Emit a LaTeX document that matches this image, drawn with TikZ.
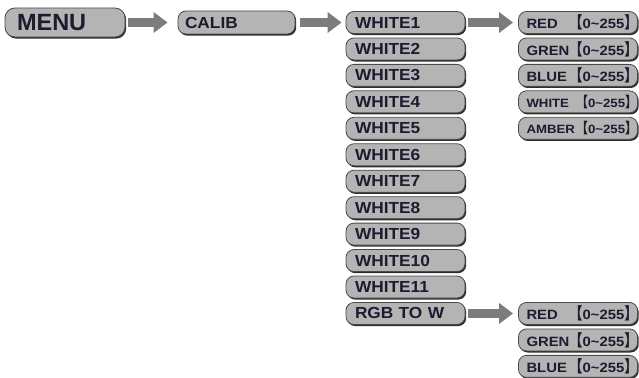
\documentclass[tikz,border=0pt]{standalone}
\usepackage{fontspec}
\setmainfont{Liberation Sans}
\newfontfamily\widefont[FakeStretch=1.08]{Liberation Sans}
\newfontfamily\chanfont[FakeStretch=1.1]{Liberation Sans}
\newfontfamily\cjkfont{Noto Sans CJK SC}
\usetikzlibrary{arrows.meta,shadows}

\definecolor{boxfill}{HTML}{B4B4B4}
\definecolor{boxedge}{HTML}{4A4A4A}
\definecolor{boxshade}{HTML}{2E2E2E}
\definecolor{labeltext}{HTML}{1C1C30}
\definecolor{arrowgray}{HTML}{7C7C7C}

% lenticular brackets trimmed to half width, slightly taller
\newcommand{\lbr}{\makebox[0.45em][r]{\scalebox{1}[1.2]{\cjkfont 【}}}
\newcommand{\rbr}{\makebox[0.45em][l]{\scalebox{1}[1.2]{\cjkfont 】}}}
\newcommand{\valrange}{\lbr 0\textasciitilde 255\rbr}
% channel label on one line, range pushed to the rounded end
\newcommand{\chanlabel}[1]{\makebox[104pt][l]{#1 \hfill\valrange}}

\begin{document}
\begin{tikzpicture}[x=1pt,y=-1pt,
  btn/.style={draw=boxedge, line width=0.8pt, fill=boxfill,
    rounded corners=8pt, minimum height=22pt, inner ysep=0pt,
    inner xsep=9pt, text width=101pt, align=left, text=labeltext,
    font=\widefont\bfseries\fontsize{16}{16}\selectfont,
    drop shadow={shadow xshift=1.2pt, shadow yshift=-1.6pt,
      fill=boxshade, opacity=1}},
  bigbtn/.style={btn, minimum height=29pt, rounded corners=10pt,
    inner xsep=12pt, text width=96pt,
    font=\bfseries\fontsize{23.5}{24}\selectfont},
  midbtn/.style={btn, minimum height=23pt, inner xsep=7pt, text width=103pt},
  chan/.style={btn, inner xsep=8pt, text width=103pt,
    font=\chanfont\bfseries\fontsize{13.5}{14}\selectfont},
  small/.style={font=\chanfont\bfseries\fontsize{12}{13}\selectfont},
  flow/.style={draw=arrowgray, line width=9pt,
    -{Triangle[width=20pt,length=14pt]}}
]
\useasboundingbox (0,0) rectangle (639,377);

% main path
\node[bigbtn] (menu)  at (65,22.5)    {MENU};
\node[midbtn] (calib) at (236.5,22.5) {CALIB};

% white presets
\foreach \i in {1,...,11}{
  \node[btn] (w\i) at (405.5,{22.5+26.45*(\i-1)}) {WHITE\i};
}
\node[btn] (rgbw) at (405.5,{22.5+26.45*11}) {RGB TO W};

% channels of a white preset
\node[chan] (wr) at (578,{22.5+26.45*0}) {\chanlabel{RED}};
\node[chan] (wg) at (578,{22.5+26.45*1}) {\chanlabel{GREN}};
\node[chan] (wb) at (578,{22.5+26.45*2}) {\chanlabel{BLUE}};
\node[chan,small] (ww) at (578,{22.5+26.45*3}) {\chanlabel{WHITE}};
\node[chan,small] (wa) at (578,{22.5+26.45*4}) {\chanlabel{AMBER}};

% channels of RGB to W
\node[chan] (rr) at (578,{22.5+26.45*11}) {\chanlabel{RED}};
\node[chan] (rg) at (578,{22.5+26.45*12}) {\chanlabel{GREN}};
\node[chan] (rb) at (578,{22.5+26.45*13}) {\chanlabel{BLUE}};

% connectors
\draw[flow, shorten <=3pt, shorten >=10pt] (menu.east) -- (calib.west);
\draw[flow, shorten <=5pt, shorten >=4pt] (calib.east) -- (w1.west);
\draw[flow, shorten <=3pt, shorten >=5pt] (w1.east) -- (wr.west);
\draw[flow, shorten <=3pt, shorten >=5pt] (rgbw.east) -- (rr.west);
\end{tikzpicture}
\end{document}
